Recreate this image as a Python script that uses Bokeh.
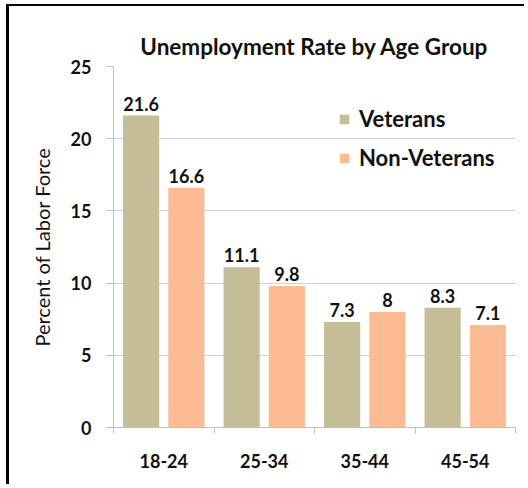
import numpy as np
from bokeh.plotting import figure
from bokeh.models import ColumnDataSource, FixedTicker, Legend, LegendItem, Range1d
from bokeh.core.properties import value
from bokeh.embed import file_html
from bokeh.resources import INLINE

categories = ["18-24", "25-34", "35-44", "45-54"]
veterans = [21.6, 11.1, 7.3, 8.3]
non_veterans = [16.6, 9.8, 8.0, 7.1]
y_ticks = [0, 5, 10, 15, 20, 25]

FONT = "Lato"
TXT = "#111111"
VET_C = "#C4BD97"
NON_C = "#FDBB93"

idx = np.arange(len(categories))
src_v = ColumnDataSource(dict(x=idx + 0.5 - 0.225, top=veterans,
                              lab=[f"{v:g}" for v in veterans]))
src_n = ColumnDataSource(dict(x=idx + 0.5 + 0.225, top=non_veterans,
                              lab=[f"{v:g}" for v in non_veterans]))

p = figure(width=518, height=480, output_backend="svg", toolbar_location=None,
           x_range=Range1d(0, len(categories)), y_range=Range1d(0, 25),
           min_border_left=104, min_border_right=12, min_border_top=60,
           min_border_bottom=59, outline_line_color=None,
           styles={"margin-left": "6px", "margin-top": "4px",
                   "border-left": "3px solid black", "border-top": "2px solid black"})

p.title.text = "Unemployment Rate by Age Group"
p.title.align = "center"
p.title.text_font = FONT
p.title.text_font_size = "22.5px"
p.title.text_font_style = "bold"
p.title.text_color = TXT
p.title.offset = 0
p.title.standoff = 14

rv = p.vbar(x="x", top="top", width=0.36, bottom=0, source=src_v, fill_color=VET_C, line_color=None)
rn = p.vbar(x="x", top="top", width=0.36, bottom=0, source=src_n, fill_color=NON_C, line_color=None)

for s in (src_v, src_n):
    p.text(x="x", y="top", text="lab", source=s, text_align="center", text_baseline="alphabetic",
           y_offset=-12, text_font=value(FONT), text_font_size="18px", text_font_style="bold",
           text_color=TXT)

# y axis
p.yaxis.ticker = FixedTicker(ticks=y_ticks)
p.yaxis.axis_line_color = "#BFBFBF"
p.yaxis.major_tick_line_color = "#BFBFBF"
p.yaxis.major_tick_out = 7
p.yaxis.major_tick_in = 0
p.yaxis.minor_tick_line_color = None
p.yaxis.major_label_text_font = FONT
p.yaxis.major_label_text_font_size = "18px"
p.yaxis.major_label_text_font_style = "bold"
p.yaxis.major_label_text_color = TXT
p.yaxis.major_label_standoff = 15
p.yaxis.axis_label = "Percent of Labor Force"
p.yaxis.axis_label_text_font = FONT
p.yaxis.axis_label_text_font_size = "20px"
p.yaxis.axis_label_text_font_style = "normal"
p.yaxis.axis_label_text_color = TXT
p.yaxis.axis_label_standoff = 14

# x axis: labels at centers, ticks at boundaries
centers = list(idx + 0.5)
p.xaxis.ticker = FixedTicker(ticks=centers, minor_ticks=list(range(len(categories) + 1)))
p.xaxis.major_label_overrides = {float(c): cat for c, cat in zip(centers, categories)}
p.xaxis.major_tick_line_color = None
p.xaxis.minor_tick_line_color = "#BFBFBF"
p.xaxis.minor_tick_out = 6
p.xaxis.minor_tick_in = 0
p.xaxis.axis_line_color = "#BFBFBF"
p.xaxis.major_label_text_font = FONT
p.xaxis.major_label_text_font_size = "18px"
p.xaxis.major_label_text_font_style = "bold"
p.xaxis.major_label_text_color = TXT
p.xaxis.major_label_standoff = 20

p.xgrid.grid_line_color = None
p.ygrid.ticker = FixedTicker(ticks=y_ticks)
p.ygrid.grid_line_color = "#D0D0D0"

legend = Legend(items=[LegendItem(label="Veterans", renderers=[rv]),
                       LegendItem(label="Non-Veterans", renderers=[rn])],
                location=(225, 256), border_line_color=None, background_fill_alpha=0,
                padding=0, margin=0, spacing=12, glyph_width=12, glyph_height=12,
                label_height=20, label_standoff=9,
                label_text_font=FONT, label_text_font_size="22px",
                label_text_font_style="bold", label_text_color=TXT)
p.add_layout(legend)

open("out.html", "w").write(file_html(p, INLINE))
